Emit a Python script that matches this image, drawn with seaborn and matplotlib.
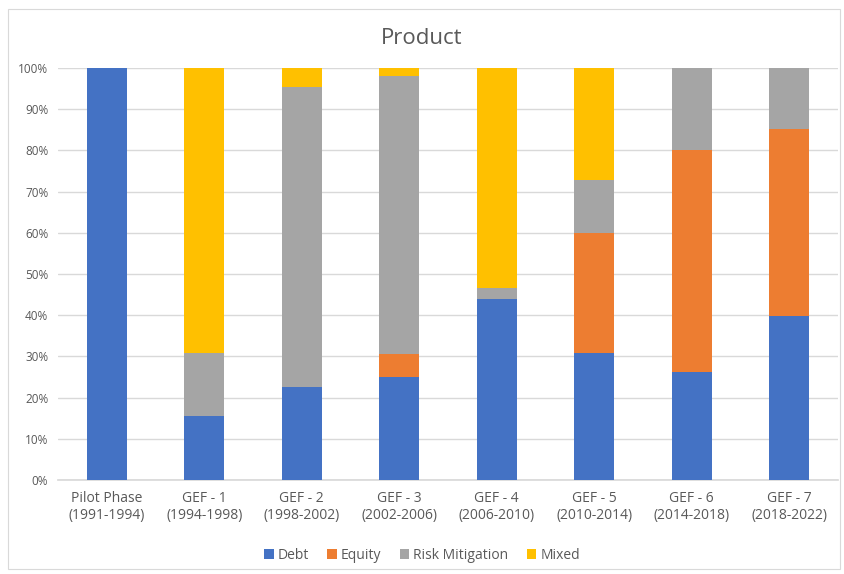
import numpy as np
import pandas as pd
import matplotlib
matplotlib.use("Agg")
import matplotlib.pyplot as plt
from matplotlib.patches import Patch
from matplotlib.ticker import PercentFormatter
import seaborn as sns

sns.set_theme(style="white")
plt.rcParams['font.family'] = ['Open Sans', 'DejaVu Sans']

phases = ["Pilot Phase\n(1991-1994)", "GEF - 1\n(1994-1998)", "GEF - 2\n(1998-2002)",
          "GEF - 3\n(2002-2006)", "GEF - 4\n(2006-2010)", "GEF - 5\n(2010-2014)",
          "GEF - 6\n(2014-2018)", "GEF - 7\n(2018-2022)"]
debt = [100, 15.5, 22.6, 25.0, 43.9, 30.9, 26.2, 39.8]
equity = [0, 0, 0, 5.6, 0, 29.0, 53.8, 45.3]
risk = [0, 15.3, 72.8, 67.5, 2.7, 12.9, 20.0, 14.9]
mixed = [0, 69.2, 4.6, 1.9, 53.4, 27.2, 0, 0]

series = ["Debt", "Equity", "Risk Mitigation", "Mixed"]
colors = ["#4472C4", "#ED7D31", "#A5A5A5", "#FFC000"]

df = pd.DataFrame({"phase": phases, "Debt": debt, "Equity": equity,
                   "Risk Mitigation": risk, "Mixed": mixed})
cum = df[series].cumsum(axis=1) / 100.0

fig = plt.figure(figsize=(8.44, 5.74), dpi=100)
ax = fig.add_axes([58 / 844, 0.1638, 780 / 844, 0.7177])

# draw cumulative totals from the top layer down so lower layers overlay
for name, col in reversed(list(zip(series, colors))):
    sns.barplot(x=df["phase"], y=cum[name], color=col, width=0.41,
                linewidth=0, saturation=1, ax=ax, zorder=3)

ax.set_xlim(-0.5, len(phases) - 0.5)
ax.set_ylim(0, 1)
ax.set_yticks(np.arange(0, 1.01, 0.1))
ax.yaxis.set_major_formatter(PercentFormatter(1.0, decimals=0))
ax.grid(axis="y", color="#D9D9D9", linewidth=1, zorder=0)
ax.set_axisbelow(True)
for s in ["top", "right", "left"]:
    ax.spines[s].set_visible(False)
ax.spines["bottom"].set_color("#D9D9D9")
ax.set_xlabel("")
ax.set_ylabel("")
ax.tick_params(axis="y", labelsize=8.5, colors="#595959", length=0, pad=7)
ax.tick_params(axis="x", labelsize=10, colors="#595959", length=0, pad=8)

fig.text(0.5, 0.933, "Product", ha="center", va="center", fontsize=16, color="#595959")

handles = [Patch(facecolor=c, edgecolor="none") for c in colors]
fig.legend(handles, series, loc="center", bbox_to_anchor=(0.5, 0.033), ncol=4,
           frameon=False, fontsize=10, labelcolor="#595959", handlelength=0.7,
           handleheight=0.7, handletextpad=0.3, columnspacing=1.3)

border = plt.Rectangle((0.01, 0.008), 0.985, 0.977, transform=fig.transFigure,
                       fill=False, edgecolor="#D9D9D9", linewidth=0.8)
fig.patches.append(border)

fig.savefig("out.png", dpi=100)
